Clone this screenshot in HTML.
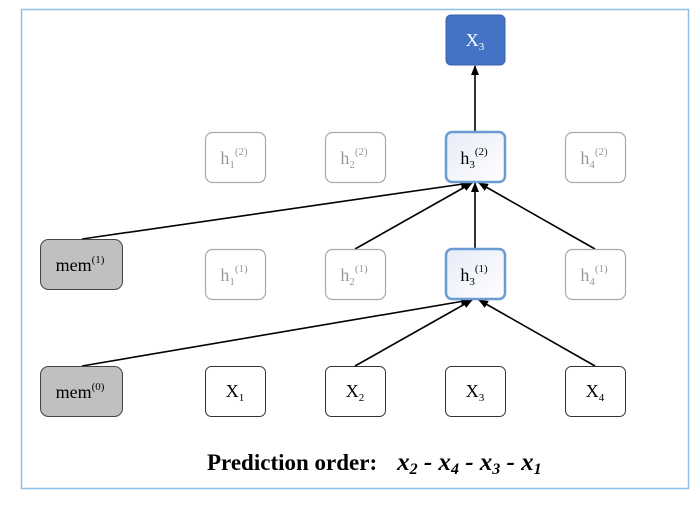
<!DOCTYPE html>
<html><head><meta charset="utf-8"><style>
body{margin:0;background:#fff;width:700px;height:503px;overflow:hidden}
svg text{font-family:"Liberation Serif",serif}
</style></head><body>
<svg width="700" height="503" viewBox="0 0 700 503">
<defs>
<marker id="a" markerWidth="10" markerHeight="10" refX="9" refY="5" orient="auto" markerUnits="userSpaceOnUse"><path d="M0,1 L10,5 L0,9 Z" fill="#000"/></marker>
<linearGradient id="g" x1="0" y1="0" x2="1" y2="1"><stop offset="0" stop-color="#e6ebf7"/><stop offset="1" stop-color="#fff"/></linearGradient>
</defs>
<rect x="21.5" y="9.5" width="667" height="479" fill="#fff" stroke="#8fbfe6" stroke-width="1.5"/>
<g stroke="#000" stroke-width="1.6" fill="none" marker-end="url(#a)">
<line x1="475" y1="132" x2="475" y2="66"/>
<line x1="82" y1="239" x2="470" y2="183"/>
<line x1="355" y1="249" x2="472" y2="183"/>
<line x1="475" y1="249" x2="475" y2="183"/>
<line x1="595" y1="249" x2="479" y2="183"/>
<line x1="82" y1="366" x2="470" y2="300"/>
<line x1="355" y1="366" x2="472" y2="300"/>
<line x1="595" y1="366" x2="479" y2="300"/>
</g>
<rect x="446" y="15" width="59" height="50" rx="5" fill="#4472c4" stroke="#3a62aa"/>
<text x="475" y="46" text-anchor="middle" font-size="18" fill="#fff">X<tspan font-size="11" dy="4">3</tspan></text>
<g fill="#fff" stroke="#aaa" stroke-width="1.2">
<rect x="205.5" y="132.5" width="60" height="50" rx="7"/><rect x="325.5" y="132.5" width="60" height="50" rx="7"/><rect x="565.5" y="132.5" width="60" height="50" rx="7"/>
<rect x="205.5" y="249.5" width="60" height="50" rx="7"/><rect x="325.5" y="249.5" width="60" height="50" rx="7"/><rect x="565.5" y="249.5" width="60" height="50" rx="7"/>
</g>
<g fill="url(#g)" stroke="#6a9bd3" stroke-width="2.5">
<rect x="446" y="132" width="59" height="50" rx="6"/><rect x="446" y="249" width="59" height="50" rx="6"/>
</g>
<g fill="#fff" stroke="#333" stroke-width="1">
<rect x="205.5" y="366.5" width="60" height="50" rx="6"/><rect x="325.5" y="366.5" width="60" height="50" rx="6"/><rect x="445.5" y="366.5" width="60" height="50" rx="6"/><rect x="565.5" y="366.5" width="60" height="50" rx="6"/>
</g>
<g fill="#c0c0c0" stroke="#444" stroke-width="1">
<rect x="40.5" y="239.5" width="82" height="50" rx="8"/><rect x="40.5" y="366.5" width="82" height="50" rx="8"/>
</g>
<g font-size="18" text-anchor="middle" fill="#999">
<text x="234" y="164">h<tspan font-size="11" dy="4">1</tspan><tspan font-size="11" dy="-13">(2)</tspan></text>
<text x="354" y="164">h<tspan font-size="11" dy="4">2</tspan><tspan font-size="11" dy="-13">(2)</tspan></text>
<text x="594" y="164">h<tspan font-size="11" dy="4">4</tspan><tspan font-size="11" dy="-13">(2)</tspan></text>
<text x="234" y="281">h<tspan font-size="11" dy="4">1</tspan><tspan font-size="11" dy="-13">(1)</tspan></text>
<text x="354" y="281">h<tspan font-size="11" dy="4">2</tspan><tspan font-size="11" dy="-13">(1)</tspan></text>
<text x="594" y="281">h<tspan font-size="11" dy="4">4</tspan><tspan font-size="11" dy="-13">(1)</tspan></text>
</g>
<g font-size="18" text-anchor="middle" fill="#000">
<text x="474" y="164">h<tspan font-size="11" dy="4">3</tspan><tspan font-size="11" dy="-13">(2)</tspan></text>
<text x="474" y="281">h<tspan font-size="11" dy="4">3</tspan><tspan font-size="11" dy="-13">(1)</tspan></text>
<text x="235" y="397">X<tspan font-size="11" dy="4">1</tspan></text>
<text x="355" y="397">X<tspan font-size="11" dy="4">2</tspan></text>
<text x="475" y="397">X<tspan font-size="11" dy="4">3</tspan></text>
<text x="595" y="397">X<tspan font-size="11" dy="4">4</tspan></text>
<text x="80" y="271">mem<tspan font-size="11" dy="-8">(1)</tspan></text>
<text x="80" y="398">mem<tspan font-size="11" dy="-8">(0)</tspan></text>
</g>
<text x="207" y="470" font-size="23" font-weight="bold" fill="#000">Prediction order:<tspan font-style="italic" dx="20" font-size="25">x<tspan font-size="16" dy="4">2</tspan><tspan dy="-4"> - x</tspan><tspan font-size="16" dy="4">4</tspan><tspan dy="-4"> - x</tspan><tspan font-size="16" dy="4">3</tspan><tspan dy="-4"> - x</tspan><tspan font-size="16" dy="4">1</tspan></tspan></text>
</svg>
</body></html>
